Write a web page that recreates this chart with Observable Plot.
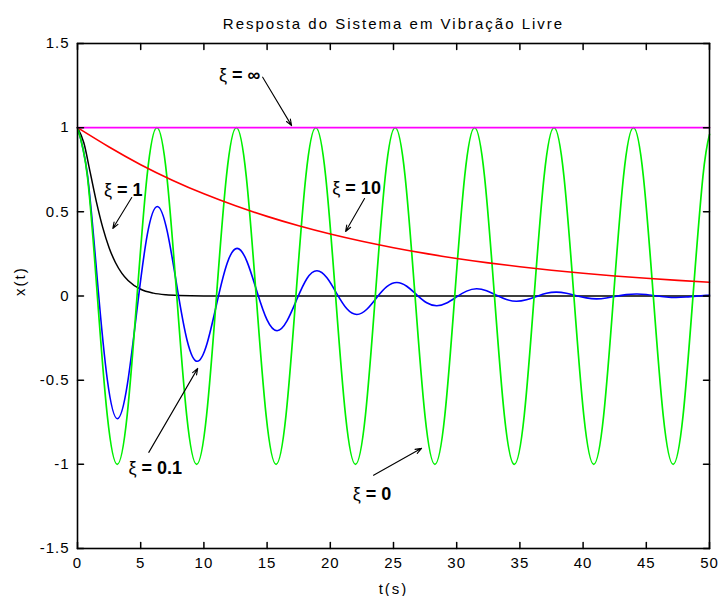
<!DOCTYPE html>
<html><head><meta charset="utf-8">
<script src="https://cdn.jsdelivr.net/npm/d3@7"></script>
<script src="https://cdn.jsdelivr.net/npm/@observablehq/plot@0.6"></script>
<style>
body{margin:0;background:#fff}
#chart svg{font-family:"Liberation Sans",Arial,sans-serif}
#chart svg g[aria-label="x-axis tick label"] text,#chart svg g[aria-label="y-axis tick label"] text{letter-spacing:1px}
#chart svg g.ttl text{letter-spacing:2px}
#chart svg g.axlbl text{letter-spacing:2px}
</style>
</head><body><div id="chart"></div>
<script>
const titleText = "Resposta do Sistema em Vibração Livre";
const xLabel = "t(s)";
const yLabel = "x(t)";
const xTicks = [0,5,10,15,20,25,30,35,40,45,50];
const yTicks = [-1.5,-1,-0.5,0,0.5,1,1.5];

// ξ = 0
const tZ0 = [0,0.785,1.571,2.356,3.142,3.927,4.712,5.498,6.283,7.069,7.854,8.639,9.425,10.210,10.996,11.781,12.566,13.352,14.137,14.923,15.708,16.493,17.279,18.064,18.850,19.635,20.420,21.206,21.991,22.777,23.562,24.347,25.133,25.918,26.704,27.489,28.274,29.060,29.845,30.631,31.416,32.201,32.987,33.772,34.558,35.343,36.128,36.914,37.699,38.485,39.270,40.055,40.841,41.626,42.412,43.197,43.982,44.768,45.553,46.338,47.124,47.909,48.695,49.480,50];
const xZ0 = [1,0.71,0,-0.71,-1,-0.71,0,0.71,1,0.71,0,-0.71,-1,-0.71,0,0.71,1,0.71,0,-0.71,-1,-0.71,0,0.71,1,0.71,0,-0.71,-1,-0.71,0,0.71,1,0.71,0,-0.71,-1,-0.71,0,0.71,1,0.71,0,-0.71,-1,-0.71,0,0.71,1,0.71,0,-0.71,-1,-0.71,0,0.71,1,0.71,0,-0.71,-1,-0.71,0,0.71,0.96];

// ξ = 0.1
const tZ01 = [0,0.789,1.579,2.368,3.157,3.947,4.736,5.525,6.315,7.104,7.893,8.683,9.472,10.261,11.051,11.840,12.629,13.419,14.208,14.997,15.787,16.576,17.365,18.155,18.944,19.734,20.523,21.312,22.102,22.891,23.680,24.470,25.259,26.048,26.838,27.627,28.416,29.206,29.995,30.784,31.574,32.363,33.152,33.942,34.731,35.520,36.310,37.099,37.888,38.678,39.467,40.256,41.046,41.835,42.624,43.414,44.203,44.992,45.782,46.571,47.360,48.150,48.939,49.728,50];
const xZ01 = [1,0.719,0.086,-0.502,-0.729,-0.524,-0.063,0.366,0.532,0.382,0.046,-0.267,-0.388,-0.279,-0.033,0.195,0.283,0.203,0.024,-0.142,-0.206,-0.148,-0.018,0.104,0.150,0.108,0.013,-0.076,-0.110,-0.079,-0.009,0.055,0.080,0.058,0.007,-0.040,-0.058,-0.042,-0.005,0.029,0.043,0.031,0.004,-0.021,-0.031,-0.022,-0.003,0.016,0.023,0.016,0.002,-0.011,-0.017,-0.012,-0.001,0.008,0.012,0.009,0.001,-0.006,-0.009,-0.006,-0.001,0.004,0.006];

// ξ = 1
const tZ1 = [0,0.5,1,1.5,2,2.5,3,3.5,4,5,6,7,8,10,15,20,30,40,50];
const xZ1 = [1,0.910,0.736,0.558,0.406,0.287,0.199,0.136,0.092,0.040,0.017,0.007,0.003,0.0005,0,0,0,0,0];

// ξ = 10
const tZ10 = [0,2.5,5,7.5,10,12.5,15,17.5,20,22.5,25,27.5,30,32.5,35,37.5,40,42.5,45,47.5,50];
const xZ10 = [1,0.885,0.780,0.688,0.607,0.536,0.473,0.417,0.368,0.325,0.287,0.253,0.223,0.197,0.174,0.153,0.135,0.119,0.105,0.093,0.082];

// ξ = ∞
const tZinf = [0,50];
const xZinf = [1,1];

// annotations
const annLabels = ["ξ = ∞","ξ = 10","ξ = 1","ξ = 0.1","ξ = 0"];
const annT = [12.83,22.08,3.62,6.15,23.3];
const annX = [1.309,0.638,0.626,-1.024,-1.178];
const arrT1 = [14.65,22.71,4.29,5.64,23.42];
const arrX1 = [1.30,0.579,0.585,-0.929,-1.065];
const arrT2 = [16.94,21.21,2.79,9.51,27.22];
const arrX2 = [1.012,0.383,0.401,-0.43,-0.905];

const tickShape = {draw(ctx, l){ ctx.moveTo(0,0); ctx.lineTo(0,-l); }};
const idx = (a) => a.map((_, i) => i);

const chart = Plot.plot({
  width: 718, height: 596,
  marginLeft: 77, marginRight: 9, marginTop: 43, marginBottom: 48,
  x: {domain: [0, 50]},
  y: {domain: [-1.5, 1.5]},
  style: {fontFamily: '"Liberation Sans",Arial,sans-serif', fontSize: "15px", background: "white", color: "black", overflow: "visible"},
  marks: [
    Plot.line(idx(tZ1), {x: tZ1, y: xZ1, stroke: "black", strokeWidth: 1.5, curve: "monotone-x"}),
    Plot.line(idx(tZ01), {x: tZ01, y: xZ01, stroke: "#0000ff", strokeWidth: 1.6, curve: "natural"}),
    Plot.line(idx(tZ0), {x: tZ0, y: xZ0, stroke: "#00f000", strokeWidth: 1.7, curve: "natural"}),
    Plot.line(idx(tZ10), {x: tZ10, y: xZ10, stroke: "#ff0000", strokeWidth: 1.6, curve: "natural"}),
    Plot.line(idx(tZinf), {x: tZinf, y: xZinf, stroke: "#ff00ff", strokeWidth: 1.6}),
    Plot.arrow(idx(annLabels), {x1: arrT1, y1: arrX1, x2: arrT2, y2: arrX2, stroke: "black", strokeWidth: 1.1, headLength: 9, headAngle: 40}),
    Plot.text(annLabels, {x: annT, y: annX, text: d => d, fontSize: 18, fontWeight: "bold", className: "ann", fill: "black"}),
    Plot.frame({stroke: "black", strokeWidth: 1.6}),
    Plot.vector(xTicks, {x: d => d, frameAnchor: "bottom", length: 6, rotate: 0, anchor: "start", shape: tickShape, stroke: "black", strokeWidth: 1.5}),
    Plot.vector(xTicks, {x: d => d, frameAnchor: "top", length: 6, rotate: 180, anchor: "start", shape: tickShape, stroke: "black", strokeWidth: 1.5}),
    Plot.vector(yTicks, {y: d => d, frameAnchor: "left", length: 6, rotate: 90, anchor: "start", shape: tickShape, stroke: "black", strokeWidth: 1.5}),
    Plot.vector(yTicks, {y: d => d, frameAnchor: "right", length: 6, rotate: 270, anchor: "start", shape: tickShape, stroke: "black", strokeWidth: 1.5}),
    Plot.axisX({ticks: xTicks, tickSize: 0, tickPadding: 9, tickFormat: d => String(d), label: null}),
    Plot.axisY({ticks: yTicks, tickSize: 0, tickPadding: 8, tickFormat: d => String(d), label: null}),
    Plot.text([titleText], {frameAnchor: "top", dy: -25, fontSize: 15, className: "ttl"}),
    Plot.text([xLabel], {frameAnchor: "bottom", dy: 45, fontSize: 15, className: "axlbl"}),
    Plot.text([yLabel], {frameAnchor: "left", dx: -57, rotate: -90, fontSize: 15, className: "axlbl"})
  ]
});

chart.querySelectorAll("g.ann text").forEach(t => {
  const s = t.textContent;
  const rest = s.slice(1);
  t.textContent = "";
  const a = document.createElementNS("http://www.w3.org/2000/svg", "tspan");
  a.setAttribute("font-weight", "normal");
  a.textContent = "ξ";
  const b = document.createElementNS("http://www.w3.org/2000/svg", "tspan");
  b.textContent = rest;
  t.appendChild(a); t.appendChild(b);
});

document.getElementById("chart").appendChild(chart);
</script>
</body></html>
